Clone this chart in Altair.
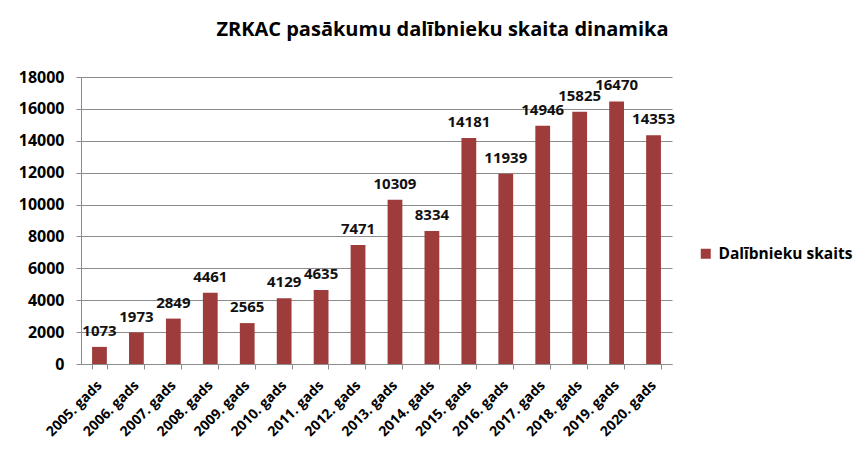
import altair as alt
import pandas as pd

years = ["2005. gads", "2006. gads", "2007. gads", "2008. gads", "2009. gads", "2010. gads",
         "2011. gads", "2012. gads", "2013. gads", "2014. gads", "2015. gads", "2016. gads",
         "2017. gads", "2018. gads", "2019. gads", "2020. gads"]
values = [1073, 1973, 2849, 4461, 2565, 4129, 4635, 7471, 10309, 8334, 14181, 11939,
          14946, 15825, 16470, 14353]
series_name = "Dalībnieku skaits"
title_text = "ZRKAC pasākumu dalībnieku skaita dinamika"
y_ticks = [0, 2000, 4000, 6000, 8000, 10000, 12000, 14000, 16000, 18000]

df = pd.DataFrame({"year": years, "value": values, "series": [series_name] * len(years)})

FONT = "Open Sans"
BAR = "#9E3B3B"
GRID = "#8C8C8C"

x = alt.X("year:N", sort=years, title=None,
          scale=alt.Scale(paddingInner=0.6, paddingOuter=0.3),
          axis=alt.Axis(labelAngle=-45, labelAlign="right", labelBaseline="middle",
                        labelFont=FONT, labelFontWeight="bold", labelFontSize=14,
                        labelColor="#000000", labelPadding=14, labelLimit=300,
                        labelOverlap=False,
                        tickBand="extent", tickColor=GRID, tickSize=5,
                        domainColor=GRID, grid=False))
y = alt.Y("value:Q", title=None,
          scale=alt.Scale(domain=[0, 18000], nice=False),
          axis=alt.Axis(values=y_ticks, format="d", labelOverlap=False, labelFlush=False,
                        labelFont=FONT, labelFontWeight="bold", labelFontSize=16,
                        labelColor="#000000", labelPadding=12,
                        tickColor=GRID, tickSize=5, domainColor=GRID,
                        grid=True, gridColor=GRID, gridWidth=1))

bars = alt.Chart(df).mark_bar(opacity=1).encode(
    x=x, y=y,
    color=alt.Color("series:N", scale=alt.Scale(range=[BAR]),
                    legend=alt.Legend(title=None, orient="none", legendX=617, legendY=169,
                                      symbolType="square", symbolSize=100,
                                      symbolStrokeWidth=0, labelOffset=5,
                                      labelFont=FONT, labelFontWeight="bold",
                                      labelFontSize=15.5, labelColor="#000000",
                                      labelLimit=300)),
)

labels = alt.Chart(df).mark_text(
    font=FONT, fontWeight="bold", fontSize=15, color="#111111",
    baseline="bottom", dy=-8,
).encode(
    x=x, y=y,
    text=alt.Text("value:Q", format="d"),
)

chart = (bars + labels).properties(
    width=591, height=287,
    title=alt.Title(title_text, font=FONT, fontSize=20, fontWeight="bold",
                    color="#000000", anchor="middle", dx=66, offset=29),
    autosize=alt.AutoSizeParams(type="none"),
    padding={"left": 73, "top": 69, "right": 183, "bottom": 78},
).configure_view(stroke=None)

chart.save("out.html", embed_options={"renderer": "svg", "actions": False})
